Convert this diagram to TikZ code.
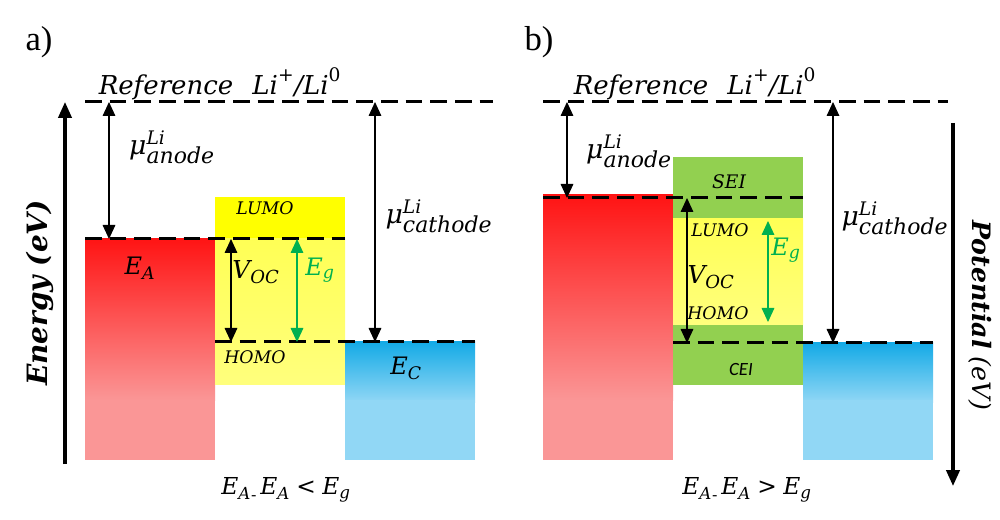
\documentclass[tikz,border=0pt]{standalone}
\usepackage{fontspec}
\usetikzlibrary{arrows.meta}
\newfontfamily\dvsfam{DejaVu Serif}
\newfontfamily\calfam{Carlito}
\newfontfamily\timesfam{Liberation Serif}
\newcommand{\dvt}[2]{\mbox{\fontsize{#1}{#1}\selectfont\dvsfam\itshape #2}}
\newcommand{\dvu}[2]{\mbox{\fontsize{#1}{#1}\selectfont\dvsfam\upshape #2}}
\definecolor{redtop}{RGB}{255,20,20}
\definecolor{redbot}{RGB}{250,150,150}
\definecolor{bluetop}{RGB}{20,170,230}
\definecolor{bluebot}{RGB}{145,215,245}
\definecolor{yeltop}{RGB}{255,255,0}
\definecolor{yelmid}{RGB}{255,255,85}
\definecolor{yelbot}{RGB}{255,255,125}
\definecolor{seigreen}{RGB}{146,208,80}
\definecolor{eggreen}{RGB}{0,176,80}
\tikzset{
  leveldash/.style={line width=2.25pt, dash pattern=on 12.5pt off 6pt},
  dimarrow/.style={line width=0.8pt, {Triangle[length=10.5pt,width=9.5pt]}-{Triangle[length=10.5pt,width=9.5pt]}},
  gaparrow/.style={dimarrow, draw=eggreen},
  axisarrow/.style={line width=2.4pt, -{Triangle[length=12pt,width=10pt]}},
  lbl/.style={inner sep=0pt, font=\fontsize{18}{20}\selectfont},
  mulbl/.style={inner sep=0pt, font=\fontsize{20}{22}\selectfont},
  smalllbl/.style={inner sep=0pt, font=\fontsize{13}{15}\selectfont\dvsfam\itshape},
  panellbl/.style={inner sep=0pt, font=\fontsize{26}{28}\selectfont\timesfam},
  axislbl/.style={inner sep=0pt, font=\fontsize{19}{22}\selectfont\dvsfam},
}
\begin{document}
\begin{tikzpicture}[x=0.75pt, y=-0.75pt]
\useasboundingbox (0,0) rectangle (1000,520);

% ---------------- panel a: boxes ----------------
\fill[redbot] (85,398) rectangle (215,460);
\shade[top color=redtop, bottom color=redbot] (85,239) rectangle (215,400);
\fill[yeltop] (215,197) rectangle (345,240);
\shade[top color=yelmid, bottom color=yelbot] (215,239) rectangle (345,385);
\shade[top color=bluetop, bottom color=bluebot] (345,342) rectangle (475,402);
\fill[bluebot] (345,400) rectangle (475,460);

% ---------------- panel b: boxes ----------------
\fill[redbot] (543,398) rectangle (673,460);
\shade[top color=redtop, bottom color=redbot] (543,195) rectangle (673,400);
\fill[seigreen] (673,157) rectangle (803,385);
\shade[top color=yelmid, bottom color=yelbot] (673,219) rectangle (803,325);
\shade[top color=bluetop, bottom color=bluebot] (803,343) rectangle (933,402);
\fill[bluebot] (803,400) rectangle (933,460);

% ---------------- coordinates ----------------
\coordinate (aRefL) at (85,102);   \coordinate (aRefR) at (493,102);
\coordinate (aEAL) at (85,239);    \coordinate (aEAR) at (345,239);
\coordinate (aECL) at (215,342);   \coordinate (aECR) at (475,342);
\coordinate (aMuAt) at (109,102);  \coordinate (aMuAb) at (109,239);
\coordinate (aMuCt) at (375,102);  \coordinate (aMuCb) at (375,342);
\coordinate (aVt) at (231,239);    \coordinate (aVb) at (231,342);
\coordinate (aGt) at (297,239);    \coordinate (aGb) at (297,342);
\coordinate (aAxB) at (65,464);    \coordinate (aAxT) at (65,102);

\coordinate (bRefL) at (543,102);  \coordinate (bRefR) at (948,102);
\coordinate (bEAL) at (543,198);   \coordinate (bEAR) at (803,198);
\coordinate (bECL) at (673,343);   \coordinate (bECR) at (933,343);
\coordinate (bMuAt) at (567,102);  \coordinate (bMuAb) at (567,198);
\coordinate (bMuCt) at (833,102);  \coordinate (bMuCb) at (833,343);
\coordinate (bVt) at (687,198);    \coordinate (bVb) at (687,343);
\coordinate (bGt) at (768,221);    \coordinate (bGb) at (768,322);
\coordinate (bAxT) at (953,123);   \coordinate (bAxB) at (953,486);

% ---------------- dashed levels ----------------
\draw[leveldash] (aRefL) -- (aRefR);
\draw[leveldash] (aEAL) -- (aEAR);
\draw[leveldash] (aECL) -- (aECR);
\draw[leveldash] (bRefL) -- (bRefR);
\draw[leveldash] (bEAL) -- (bEAR);
\draw[leveldash] (bECL) -- (bECR);

% ---------------- arrows ----------------
\draw[dimarrow] (aMuAt) -- (aMuAb);
\draw[dimarrow] (aMuCt) -- (aMuCb);
\draw[dimarrow] (aVt) -- (aVb);
\draw[gaparrow] (aGt) -- (aGb);
\draw[axisarrow] (aAxB) -- (aAxT);

\draw[dimarrow] (bMuAt) -- (bMuAb);
\draw[dimarrow] (bMuCt) -- (bMuCb);
\draw[dimarrow] (bVt) -- (bVb);
\draw[gaparrow] (bGt) -- (bGb);
\draw[axisarrow] (bAxT) -- (bAxB);

% ---------------- labels panel a ----------------
\node[panellbl] (alab) at (39,42) {a)};
\node[lbl] (aref) at (220,84) {$\dvt{19.5}{Reference}\hspace{0.8em}\dvt{19.5}{Li}^{\dvu{14}{+}}\dvt{19.5}{/Li}^{\dvu{14}{0}}$};
\node[mulbl] (amua) at (172,147) {$\dvt{20}{μ}^{\dvt{14}{Li}}_{\dvt{16.5}{anode}}$};
\node[mulbl] (amuc) at (439,216) {$\dvt{20}{μ}^{\dvt{14}{Li}}_{\dvt{16.5}{cathode}}$};
\node[lbl] (aEA) at (140,268) {$\dvt{18}{E}_{\dvt{13}{A}}$};
\node[lbl] (aEC) at (406,368) {$\dvt{18}{E}_{\dvt{13}{C}}$};
\node[lbl] (aVoc) at (256,272) {$\dvt{18.5}{V}_{\dvt{13.5}{OC}}$};
\node[lbl, text=eggreen] (aEg) at (320,270) {$\dvt{18}{E}_{\dvt{13}{g}}$};
\node[smalllbl] (aLUMO) at (265,208) {LUMO};
\node[smalllbl] (aHOMO) at (255,357) {HOMO};
\node[lbl] (acond) at (286,490) {$\dvt{17.5}{E}_{\dvt{12.5}{A}}\raisebox{-4pt}{\dvu{12}{-}}\,\dvt{17.5}{E}_{\dvt{12.5}{A}}\;\dvu{17.5}{<}\;\dvt{17.5}{E}_{\dvt{12.5}{g}}$};
\node[axislbl, font=\fontsize{21}{24}\selectfont\dvsfam, rotate=90] (aaxis) at (40,293) {\bfseries\itshape Energy (eV)};

% ---------------- labels panel b ----------------
\node[panellbl] (blab) at (539,42) {b)};
\node[lbl] (bref) at (695,84) {$\dvt{19.5}{Reference}\hspace{0.8em}\dvt{19.5}{Li}^{\dvu{14}{+}}\dvt{19.5}{/Li}^{\dvu{14}{0}}$};
\node[mulbl] (bmua) at (629,151) {$\dvt{20}{μ}^{\dvt{14}{Li}}_{\dvt{16.5}{anode}}$};
\node[mulbl] (bmuc) at (895,218) {$\dvt{20}{μ}^{\dvt{14}{Li}}_{\dvt{16.5}{cathode}}$};
\node[lbl] (bVoc) at (711,277) {$\dvt{18.5}{V}_{\dvt{13.5}{OC}}$};
\node[lbl, text=eggreen] (bEg) at (786,250) {$\dvt{18}{E}_{\dvt{13}{g}}$};
\node[smalllbl, font=\fontsize{14}{16}\selectfont\dvsfam\itshape] (bSEI) at (729,182) {SEI};
\node[smalllbl] (bLUMO) at (720,230) {LUMO};
\node[smalllbl] (bHOMO) at (718,313) {HOMO};
\node[inner sep=0pt, font=\fontsize{14}{16}\selectfont\calfam\itshape] (bCEI) at (741,370) {CEI};
\node[lbl] (bcond) at (747,490) {$\dvt{17.5}{E}_{\dvt{12.5}{A}}\raisebox{-4pt}{\dvu{12}{-}}\,\dvt{17.5}{E}_{\dvt{12.5}{A}}\;\dvu{17.5}{>}\;\dvt{17.5}{E}_{\dvt{12.5}{g}}$};
\node[axislbl, rotate=-90] (baxis) at (980,315) {\textbf{\textit{Potential}} \textit{(eV)}};
\end{tikzpicture}
\end{document}
